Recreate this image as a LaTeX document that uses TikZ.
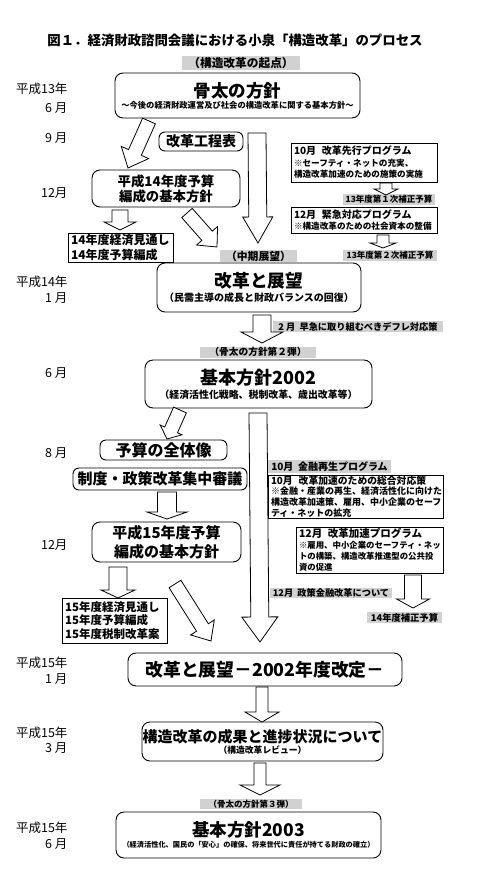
\documentclass[tikz,border=0pt]{standalone}
\usepackage{fontspec}
\setmainfont{Noto Sans CJK JP}
\usetikzlibrary{calc,positioning}

\newcommand{\fsz}[2]{\fontsize{#1}{#2}\selectfont}
% hollow block arrow: from, to, half shaft, half head, head length
\newcommand{\hollowarr}[5]{%
  \draw[barr] let \p1=($(#2)-(#1)$), \n1={atan2(\y1,\x1)}, \n2={veclen(\x1,\y1)} in
    ($(#1)+({\n1+90}:#3)$) -- ($(#1)+(\n1:{\n2-#5})+({\n1+90}:#3)$)
    -- ($(#1)+(\n1:{\n2-#5})+({\n1+90}:#4)$) -- (#2)
    -- ($(#1)+(\n1:{\n2-#5})+({\n1-90}:#4)$) -- ($(#1)+(\n1:{\n2-#5})+({\n1-90}:#3)$)
    -- ($(#1)+({\n1-90}:#3)$) -- cycle;}

\tikzset{
  rbox/.style={draw, rounded corners=8pt, line width=0.9pt, align=center, inner sep=0pt},
  sqbox/.style={draw, line width=0.9pt, align=left, inner xsep=3pt, inner ysep=0pt},
  gbox/.style={fill=black!18, inner sep=0pt},
  datelbl/.style={anchor=east, align=right, font=\fsz{12.5}{15.5}},
  barr/.style={draw, fill=white, line width=0.8pt, line join=miter},
}

\begin{document}
\begin{tikzpicture}[x=1pt,y=-1pt]
\useasboundingbox (0,0) rectangle (480,871);

\node[font=\fsz{13.4}{16}\bfseries] (title) at (235,40) {図１．経済財政諮問会議における小泉「構造改革」のプロセス};

% dates
\node[datelbl] (d1) at (71,98) {平成13年\\[3pt]6 月};
\node[datelbl] (d2) at (71,138) {9 月};
\node[datelbl] (d3) at (71,193) {12月};
\node[datelbl] (d4) at (71,289.5) {平成14年\\1 月};
\node[datelbl] (d5) at (71,373) {6 月};
\node[datelbl] (d6) at (71,453) {8 月};
\node[datelbl] (d7) at (71,545) {12月};
\node[datelbl] (d8) at (71,670.5) {平成15年\\1 月};
\node[datelbl] (d9) at (71,740) {平成15年\\3 月};
\node[datelbl] (d10) at (71,835.5) {平成15年\\6 月};

% top block
\node[gbox, minimum width=118, minimum height=14, font=\fsz{11.7}{14}\bfseries] (kiten) at (241,63) {（構造改革の起点）};
\node[rbox, minimum width=245, minimum height=45, font=\fsz{8.3}{10}\bfseries] (hone) at (237.5,95.5)
  {{\fsz{17.5}{20}\bfseries 骨太の方針}\\[1pt]～今後の経済財政運営及び社会の構造改革に関する基本方針～};
\node[rbox, rounded corners=6pt, minimum width=84, minimum height=19, font=\fsz{14}{16}\bfseries] (koutei) at (201,141.5) {改革工程表};
\node[rbox, minimum width=148, minimum height=37, font=\fsz{13.4}{15}\bfseries] (h14yosan) at (166,188.5) {平成14年度予算\\編成の基本方針};
\node[sqbox, text width=99, minimum height=29, font=\fsz{12}{15}\bfseries] (mitoshi14) at (120.5,247.5) {14年度経済見通し\\14年度予算編成};

% right column 2001
\node[sqbox, text width=140, minimum height=39, font=\fsz{8.6}{11.5}\bfseries] (senko) at (364,162.5)
  {{\fsz{10}{12}\bfseries 10月\ \ 改革先行プログラム}\\※セーフティ・ネットの充実、\\構造改革加速のための施策の実施};
\node[gbox, minimum width=92, minimum height=11, font=\fsz{8.5}{10}\bfseries] (hosei1) at (389,199.5) {13年度第１次補正予算};
\node[sqbox, text width=140, minimum height=26, font=\fsz{8.6}{11.5}\bfseries] (kinkyu) at (364,220)
  {{\fsz{10}{12}\bfseries 12月\ \ 緊急対応プログラム}\\※構造改革のための社会資本の整備};
\node[gbox, minimum width=94, minimum height=11, font=\fsz{8.5}{10}\bfseries] (hosei2) at (390,255) {13年度第２次補正予算};

% 2002
\node[gbox, minimum width=77, minimum height=12, font=\fsz{10.8}{12}\bfseries] (chuki) at (258.5,256) {（中期展望）};
\node[rbox, minimum width=204, minimum height=49, font=\fsz{10}{12}\bfseries] (tenbo) at (259,287.5)
  {{\fsz{17.7}{20}\bfseries 改革と展望}\\[2pt]（民需主導の成長と財政バランスの回復）};
\node[gbox, minimum width=170, minimum height=11, font=\fsz{9.2}{10}\bfseries] (defure) at (358,326.5) {2 月\ \ 早急に取り組むべきデフレ対応策};
\node[gbox, minimum width=116, minimum height=11, font=\fsz{9.7}{11}\bfseries] (dai2) at (258,352) {（骨太の方針第２弾）};
\node[rbox, minimum width=227, minimum height=48, font=\fsz{9.9}{12}\bfseries] (kihon02) at (258.5,384)
  {{\fsz{18}{20}\bfseries 基本方針2002}\\[2pt]（経済活性化戦略、税制改革、歳出改革等）};
\node[rbox, rounded corners=6pt, minimum width=127, minimum height=20, font=\fsz{16}{18}\bfseries] (zentai) at (163.5,450) {予算の全体像};
\node[rbox, rounded corners=6pt, minimum width=174, minimum height=22, font=\fsz{15}{17}\bfseries] (shingi) at (160,479) {制度・政策改革集中審議};
\node[rbox, minimum width=149, minimum height=40, font=\fsz{15}{19}\bfseries] (h15yosan) at (166.5,542) {平成15年度予算\\編成の基本方針};
\node[sqbox, text width=99, minimum height=45, font=\fsz{11.5}{13.5}\bfseries] (mitoshi15) at (114.5,620.5) {15年度経済見通し\\15年度予算編成\\15年度税制改革案};

% right column 2002
\node[gbox, minimum width=123, minimum height=13, font=\fsz{10}{12}\bfseries] (kinyu) at (329.5,466.5) {10月\ \ 金融再生プログラム};
\node[sqbox, text width=169, minimum height=43, font=\fsz{9}{10.8}\bfseries] (sogo) at (355.5,496.5)
  {{\fsz{9.8}{11}\bfseries 10月\ \ 改革加速のための総合対応策}\\※金融・産業の再生、経済活性化に向けた\\構造改革加速策、雇用、中小企業のセーフ\\ティ・ネットの拡充};
\node[sqbox, text width=141, minimum height=46, font=\fsz{8.4}{11}\bfseries] (kasoku) at (369.5,550)
  {{\fsz{10.5}{12}\bfseries 12月\ \ 改革加速プログラム}\\※雇用、中小企業のセーフティ・ネッ\\トの構築、構造改革推進型の公共投\\資の促進};
\node[gbox, minimum width=122, minimum height=10, font=\fsz{9.2}{10}\bfseries] (seisaku) at (331,592.5) {12月\ \ 政策金融改革について};
\node[gbox, minimum width=75, minimum height=11, font=\fsz{9.3}{10}\bfseries] (hosei14) at (404.5,617.5) {14年度補正予算};

% 2003
\node[rbox, minimum width=274, minimum height=33, font=\fsz{17.8}{20}\bfseries] (kaitei) at (265,669.5) {改革と展望－2002年度改定－};
\node[rbox, minimum width=241, minimum height=39, font=\fsz{8.8}{10}\bfseries] (seika) at (262.5,741.5)
  {{\fsz{15}{17}\bfseries 構造改革の成果と進捗状況について}\\[1pt]（構造改革レビュー）};
\node[gbox, minimum width=102, minimum height=10, font=\fsz{8.5}{10}\bfseries] (dai3) at (251,804) {（骨太の方針第３弾）};
\node[rbox, minimum width=265, minimum height=46, font=\fsz{7.2}{9}\bfseries] (kihon03) at (248.5,835)
  {{\fsz{17.5}{20}\bfseries 基本方針2003}\\[2pt]（経済活性化、国民の「安心」の確保、将来世代に責任が持てる財政の確立）};

% arrow ends
\coordinate (a1s) at (149,121);  \coordinate (a1e) at (128,168);
\coordinate (a2s) at (257,133);  \coordinate (a2e) at (258,243);
\coordinate (a3s) at (120,210);  \coordinate (a3e) at (120,230);
\coordinate (a4s) at (187,213);  \coordinate (a4e) at (217,247);
\coordinate (a5s) at (386,183);  \coordinate (a5e) at (386,195);
\coordinate (a6s) at (383,235);  \coordinate (a6e) at (383,248);
\coordinate (a7s) at (262,315);  \coordinate (a7e) at (262,343);
\coordinate (a8s) at (180,410);  \coordinate (a8e) at (167,439);
\coordinate (a9s) at (258,413);  \coordinate (a9e) at (260,642);
\coordinate (a10s) at (167,492); \coordinate (a10e) at (167,519);
\coordinate (a11s) at (118,567); \coordinate (a11e) at (118,598);
\coordinate (a12s) at (175,584); \coordinate (a12e) at (211,641);
\coordinate (a13s) at (413,575); \coordinate (a13e) at (413,608);
\coordinate (a14s) at (262,687); \coordinate (a14e) at (262,722);
\coordinate (a15s) at (260,763); \coordinate (a15e) at (260,795);

\hollowarr{a1s}{a1e}{7pt}{15pt}{17pt}
\hollowarr{a2s}{a2e}{9pt}{15pt}{26pt}
\hollowarr{a3s}{a3e}{8pt}{16pt}{8pt}
\hollowarr{a4s}{a4e}{7pt}{14pt}{15pt}
\hollowarr{a5s}{a5e}{6pt}{12pt}{6pt}
\hollowarr{a6s}{a6e}{6pt}{13pt}{5pt}
\hollowarr{a7s}{a7e}{9pt}{21pt}{11pt}
\hollowarr{a8s}{a8e}{7pt}{12pt}{10pt}
\hollowarr{a9s}{a9e}{9pt}{18pt}{25pt}
\hollowarr{a10s}{a10e}{9.5pt}{20pt}{7pt}
\hollowarr{a11s}{a11e}{9pt}{17pt}{8pt}
\hollowarr{a12s}{a12e}{7pt}{14pt}{16pt}
\hollowarr{a13s}{a13e}{8.5pt}{16.5pt}{9pt}
\hollowarr{a14s}{a14e}{6pt}{17pt}{10pt}
\hollowarr{a15s}{a15e}{6pt}{20pt}{10pt}
\end{tikzpicture}
\end{document}
